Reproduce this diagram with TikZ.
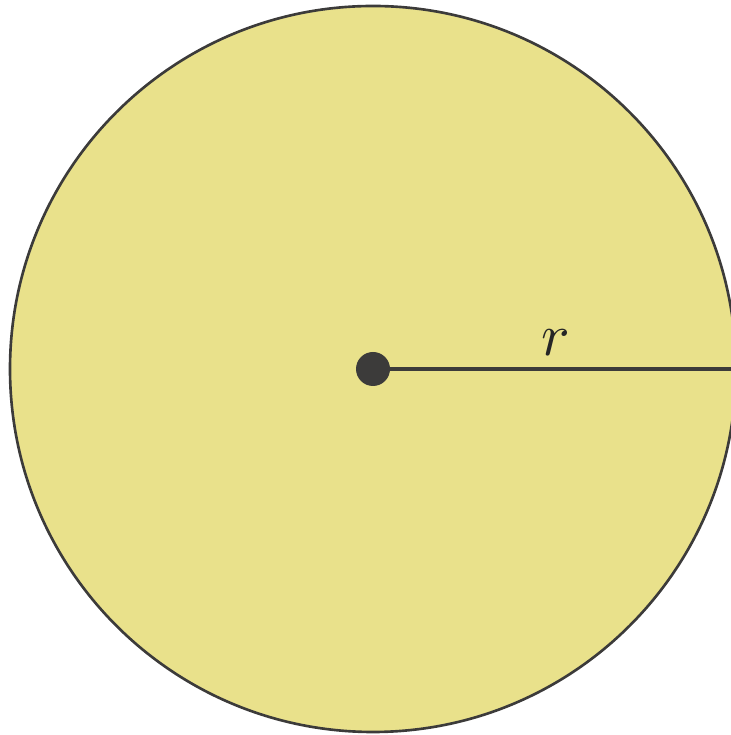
\documentclass[tikz,border=0pt]{standalone}
\definecolor{DiscFill}{HTML}{E9E18B}
\definecolor{DiscEdge}{HTML}{3C3B3A}

\begin{document}
\begin{tikzpicture}[line cap=round,line join=round]
  \useasboundingbox (0,0) rectangle (14.62,14.70);
  \node[circle,fill=DiscFill,draw=DiscEdge,line width=1.5pt,inner sep=0pt,
    minimum size=14.52cm] (disc) at (7.46,7.32) {};
  \node[circle,fill=DiscEdge,inner sep=0pt,minimum size=0.68cm] (ctr) at (disc.center) {};
  \draw[DiscEdge,line width=2pt] (ctr) -- (disc.east)
    node[midway,above=0.12cm,xshift=-0.16cm,text=black!85] (rlab) {\scalebox{3.4}{$r$}};
\end{tikzpicture}
\end{document}
